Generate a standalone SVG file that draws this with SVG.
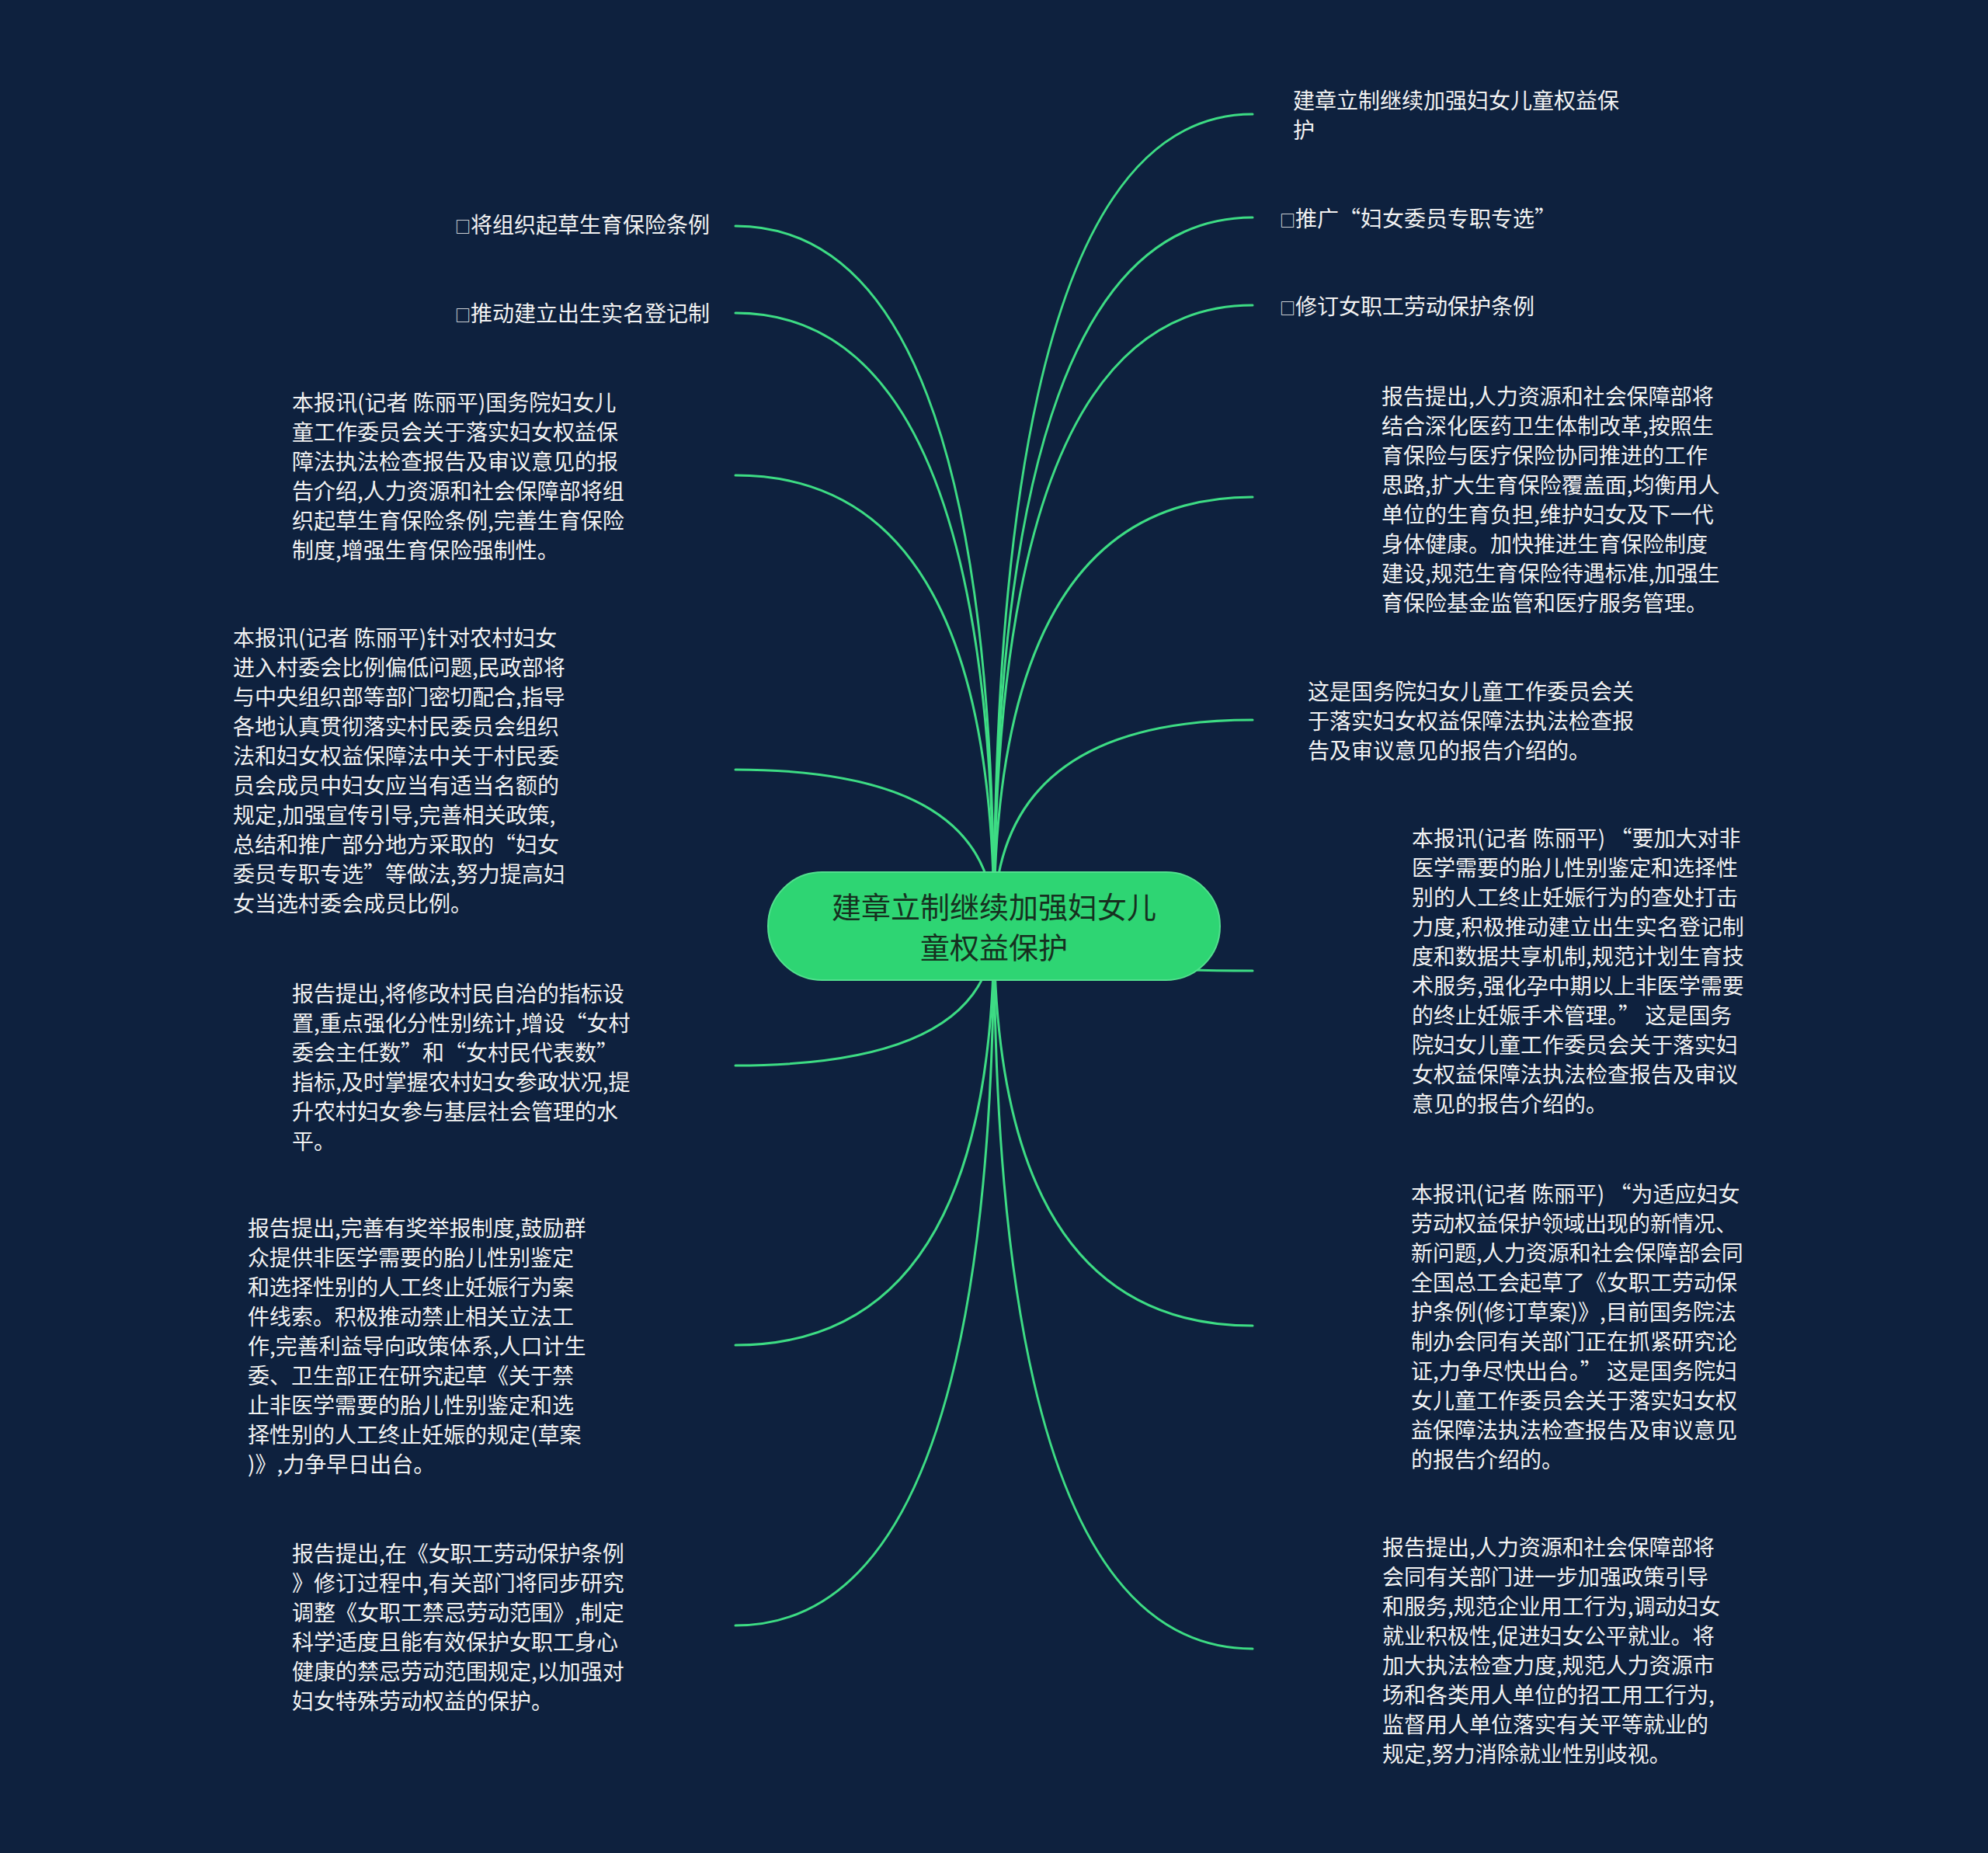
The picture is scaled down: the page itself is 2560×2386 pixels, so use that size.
<svg xmlns="http://www.w3.org/2000/svg" width="2560" height="2386" viewBox="0 0 2560 2386">
<style>
.bg{fill:#0e213e}
.conn{fill:none;stroke:#3ddc84;stroke-width:3;stroke-linecap:round}
.root{fill:#2ed573;stroke:#52e08e;stroke-width:2}
.rt{font-family:"Noto Sans CJK SC","Noto Sans",sans-serif;font-size:38px;fill:#16301f;text-anchor:middle}
.t{font-family:"Noto Sans CJK SC","Noto Sans",sans-serif;font-size:28px;fill:#f2f2f2}
.e{text-anchor:end}
.bx{font-size:20px}
</style>
<rect class="bg" x="0" y="0" width="2560" height="2386"/>
<g id="connectors">
<path class="conn" d="M1280 1192 Q1280 147 1613 147"/>
<path class="conn" d="M1280 1192 Q1280 280 1613 280"/>
<path class="conn" d="M1280 1192 Q1280 393 1613 393"/>
<path class="conn" d="M1280 1192 Q1280 640 1613 640"/>
<path class="conn" d="M1280 1192 Q1280 927 1613 927"/>
<path class="conn" d="M1280 1192 Q1280 1250 1613 1250"/>
<path class="conn" d="M1280 1192 Q1280 1707 1613 1707"/>
<path class="conn" d="M1280 1192 Q1280 2123 1613 2123"/>
<path class="conn" d="M1280 1192 Q1280 291 947 291"/>
<path class="conn" d="M1280 1192 Q1280 403 947 403"/>
<path class="conn" d="M1280 1192 Q1280 612 947 612"/>
<path class="conn" d="M1280 1192 Q1280 991 947 991"/>
<path class="conn" d="M1280 1192 Q1280 1372 947 1372"/>
<path class="conn" d="M1280 1192 Q1280 1732 947 1732"/>
<path class="conn" d="M1280 1192 Q1280 2093 947 2093"/>
</g>
<g id="root">
<rect class="root" x="989" y="1123" width="582" height="139" rx="69.5" ry="69.5"/>
<text class="rt" x="1280" y="1182">建章立制继续加强妇女儿</text>
<text class="rt" x="1280" y="1234">童权益保护</text>
</g>
<g id="r1"><text class="t" x="1665" y="140">建章立制继续加强妇女儿童权益保</text><text class="t" x="1665" y="178">护</text></g>
<g id="r2"><text class="t" x="1648" y="292"><tspan class="bx">□</tspan>推广“妇女委员专职专选”</text></g>
<g id="r3"><text class="t" x="1648" y="405"><tspan class="bx">□</tspan>修订女职工劳动保护条例</text></g>
<g id="r4">
<text class="t" x="1779" y="521">报告提出,人力资源和社会保障部将</text>
<text class="t" x="1779" y="559">结合深化医药卫生体制改革,按照生</text>
<text class="t" x="1779" y="597">育保险与医疗保险协同推进的工作</text>
<text class="t" x="1779" y="635">思路,扩大生育保险覆盖面,均衡用人</text>
<text class="t" x="1779" y="673">单位的生育负担,维护妇女及下一代</text>
<text class="t" x="1779" y="711">身体健康。加快推进生育保险制度</text>
<text class="t" x="1779" y="749">建设,规范生育保险待遇标准,加强生</text>
<text class="t" x="1779" y="787">育保险基金监管和医疗服务管理。</text>
</g>
<g id="r5">
<text class="t" x="1684" y="901">这是国务院妇女儿童工作委员会关</text>
<text class="t" x="1684" y="939">于落实妇女权益保障法执法检查报</text>
<text class="t" x="1684" y="977">告及审议意见的报告介绍的。</text>
</g>
<g id="r6">
<text class="t" x="1818" y="1090">本报讯(记者 陈丽平) “要加大对非</text>
<text class="t" x="1818" y="1128">医学需要的胎儿性别鉴定和选择性</text>
<text class="t" x="1818" y="1166">别的人工终止妊娠行为的查处打击</text>
<text class="t" x="1818" y="1204">力度,积极推动建立出生实名登记制</text>
<text class="t" x="1818" y="1242">度和数据共享机制,规范计划生育技</text>
<text class="t" x="1818" y="1280">术服务,强化孕中期以上非医学需要</text>
<text class="t" x="1818" y="1318">的终止妊娠手术管理。” 这是国务</text>
<text class="t" x="1818" y="1356">院妇女儿童工作委员会关于落实妇</text>
<text class="t" x="1818" y="1394">女权益保障法执法检查报告及审议</text>
<text class="t" x="1818" y="1432">意见的报告介绍的。</text>
</g>
<g id="r7">
<text class="t" x="1817" y="1548">本报讯(记者 陈丽平) “为适应妇女</text>
<text class="t" x="1817" y="1586">劳动权益保护领域出现的新情况、</text>
<text class="t" x="1817" y="1624">新问题,人力资源和社会保障部会同</text>
<text class="t" x="1817" y="1662">全国总工会起草了《女职工劳动保</text>
<text class="t" x="1817" y="1700">护条例(修订草案)》,目前国务院法</text>
<text class="t" x="1817" y="1738">制办会同有关部门正在抓紧研究论</text>
<text class="t" x="1817" y="1776">证,力争尽快出台。” 这是国务院妇</text>
<text class="t" x="1817" y="1814">女儿童工作委员会关于落实妇女权</text>
<text class="t" x="1817" y="1852">益保障法执法检查报告及审议意见</text>
<text class="t" x="1817" y="1890">的报告介绍的。</text>
</g>
<g id="r8">
<text class="t" x="1780" y="2003">报告提出,人力资源和社会保障部将</text>
<text class="t" x="1780" y="2041">会同有关部门进一步加强政策引导</text>
<text class="t" x="1780" y="2079">和服务,规范企业用工行为,调动妇女</text>
<text class="t" x="1780" y="2117">就业积极性,促进妇女公平就业。将</text>
<text class="t" x="1780" y="2155">加大执法检查力度,规范人力资源市</text>
<text class="t" x="1780" y="2193">场和各类用人单位的招工用工行为,</text>
<text class="t" x="1780" y="2231">监督用人单位落实有关平等就业的</text>
<text class="t" x="1780" y="2269">规定,努力消除就业性别歧视。</text>
</g>
<g id="l1"><text class="t e" x="914" y="300"><tspan class="bx">□</tspan>将组织起草生育保险条例</text></g>
<g id="l2"><text class="t e" x="914" y="414"><tspan class="bx">□</tspan>推动建立出生实名登记制</text></g>
<g id="l3">
<text class="t" x="376" y="529">本报讯(记者 陈丽平)国务院妇女儿</text>
<text class="t" x="376" y="567">童工作委员会关于落实妇女权益保</text>
<text class="t" x="376" y="605">障法执法检查报告及审议意见的报</text>
<text class="t" x="376" y="643">告介绍,人力资源和社会保障部将组</text>
<text class="t" x="376" y="681">织起草生育保险条例,完善生育保险</text>
<text class="t" x="376" y="719">制度,增强生育保险强制性。</text>
</g>
<g id="l4">
<text class="t" x="300" y="832">本报讯(记者 陈丽平)针对农村妇女</text>
<text class="t" x="300" y="870">进入村委会比例偏低问题,民政部将</text>
<text class="t" x="300" y="908">与中央组织部等部门密切配合,指导</text>
<text class="t" x="300" y="946">各地认真贯彻落实村民委员会组织</text>
<text class="t" x="300" y="984">法和妇女权益保障法中关于村民委</text>
<text class="t" x="300" y="1022">员会成员中妇女应当有适当名额的</text>
<text class="t" x="300" y="1060">规定,加强宣传引导,完善相关政策,</text>
<text class="t" x="300" y="1098">总结和推广部分地方采取的“妇女</text>
<text class="t" x="300" y="1136">委员专职专选”等做法,努力提高妇</text>
<text class="t" x="300" y="1174">女当选村委会成员比例。</text>
</g>
<g id="l5">
<text class="t" x="376" y="1290">报告提出,将修改村民自治的指标设</text>
<text class="t" x="376" y="1328">置,重点强化分性别统计,增设“女村</text>
<text class="t" x="376" y="1366">委会主任数”和“女村民代表数”</text>
<text class="t" x="376" y="1404">指标,及时掌握农村妇女参政状况,提</text>
<text class="t" x="376" y="1442">升农村妇女参与基层社会管理的水</text>
<text class="t" x="376" y="1480">平。</text>
</g>
<g id="l6">
<text class="t" x="319" y="1592">报告提出,完善有奖举报制度,鼓励群</text>
<text class="t" x="319" y="1630">众提供非医学需要的胎儿性别鉴定</text>
<text class="t" x="319" y="1668">和选择性别的人工终止妊娠行为案</text>
<text class="t" x="319" y="1706">件线索。积极推动禁止相关立法工</text>
<text class="t" x="319" y="1744">作,完善利益导向政策体系,人口计生</text>
<text class="t" x="319" y="1782">委、卫生部正在研究起草《关于禁</text>
<text class="t" x="319" y="1820">止非医学需要的胎儿性别鉴定和选</text>
<text class="t" x="319" y="1858">择性别的人工终止妊娠的规定(草案</text>
<text class="t" x="319" y="1896">)》,力争早日出台。</text>
</g>
<g id="l7">
<text class="t" x="376" y="2011">报告提出,在《女职工劳动保护条例</text>
<text class="t" x="376" y="2049">》修订过程中,有关部门将同步研究</text>
<text class="t" x="376" y="2087">调整《女职工禁忌劳动范围》,制定</text>
<text class="t" x="376" y="2125">科学适度且能有效保护女职工身心</text>
<text class="t" x="376" y="2163">健康的禁忌劳动范围规定,以加强对</text>
<text class="t" x="376" y="2201">妇女特殊劳动权益的保护。</text>
</g>
</svg>
